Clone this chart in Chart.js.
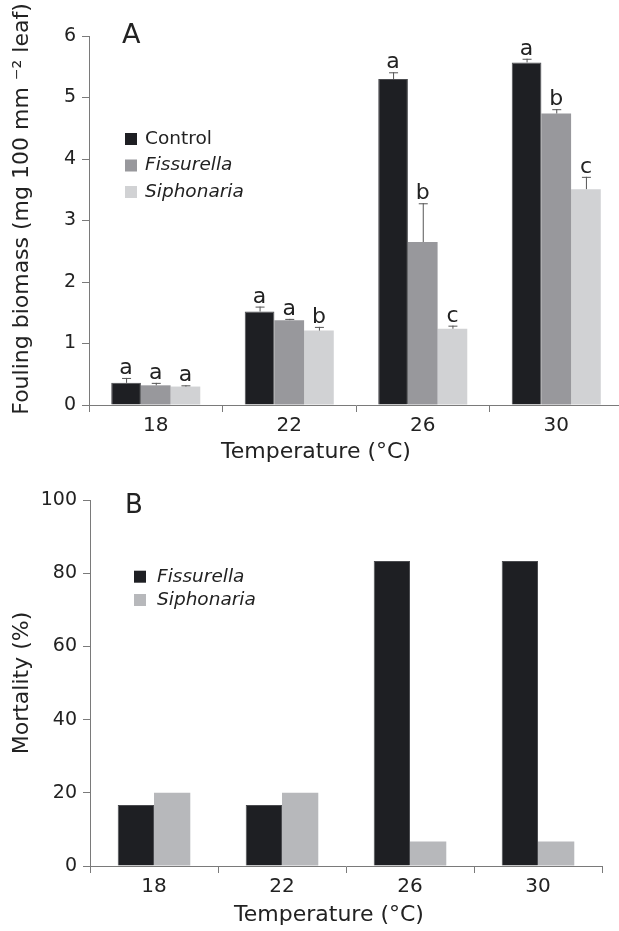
<!DOCTYPE html>
<html lang="en">
<head>
  <meta charset="UTF-8" />
  <title>Fouling biomass and grazer mortality</title>
  <script src="https://cdn.jsdelivr.net/npm/chart.js"></script>
  <style>
    * { box-sizing: border-box; margin: 0; padding: 0; }
    body { width: 619px; height: 931px; overflow: hidden; background: #fff; }
    .panel { width: 619px; overflow: hidden; }
    canvas { display: block; }
  </style>
</head>
<body>

<div class="panel" style="height:465px"><canvas id="chartA" width="623" height="465"></canvas></div>
<div class="panel" style="height:466px"><canvas id="chartB" width="619" height="466"></canvas></div>

<script>
  // temperatures (°C)
  const temperatures = ['18', '22', '26', '30'];

  // panel A: fouling biomass, mean and upper error
  const controlBiomass = [0.36, 1.52, 5.30, 5.57];
  const controlErr = [0.08, 0.08, 0.11, 0.06];
  const fissurellaBiomass = [0.32, 1.38, 2.65, 4.74];
  const fissurellaErr = [0.04, 0.02, 0.63, 0.07];
  const siphonariaBiomass = [0.30, 1.21, 1.24, 3.51];
  const siphonariaErr = [0.02, 0.06, 0.05, 0.20];

  // significance letters
  const controlLetters = ['a', 'a', 'a', 'a'];
  const fissurellaLetters = ['a', 'a', 'b', 'b'];
  const siphonariaLetters = ['a', 'b', 'c', 'c'];

  // panel B: mortality (%)
  const fissurellaMortality = [16.7, 16.7, 83.3, 83.3];
  const siphonariaMortality = [20, 20, 6.7, 6.7];

  const biomassTicks = [0, 1, 2, 3, 4, 5, 6];
  const mortalityTicks = [0, 20, 40, 60, 80, 100];

  const FONT = "'DejaVu Sans', 'Liberation Sans', Arial, sans-serif";
  const AXIS = '#7a7a7a';
  const TEXT = '#222';
  Chart.defaults.font.family = FONT;
  Chart.defaults.color = TEXT;

  // error bars (upper whisker only) + letters
  const errorBars = {
    id: 'errorBars',
    afterDatasetsDraw(chart) {
      const ctx = chart.ctx;
      const y = chart.scales.y;
      ctx.save();
      chart.data.datasets.forEach((ds, i) => {
        if (!ds.errors) return;
        const meta = chart.getDatasetMeta(i);
        meta.data.forEach((bar, j) => {
          const top = y.getPixelForValue(ds.data[j] + ds.errors[j]);
          const base = y.getPixelForValue(ds.data[j]);
          ctx.strokeStyle = '#555';
          ctx.lineWidth = 1;
          ctx.beginPath();
          ctx.moveTo(bar.x + 0.5, base);
          ctx.lineTo(bar.x + 0.5, top);
          ctx.moveTo(bar.x - 4, top + 0.5);
          ctx.lineTo(bar.x + 5, top + 0.5);
          ctx.stroke();
          if (ds.letters) {
            ctx.fillStyle = TEXT;
            ctx.font = '22px ' + FONT;
            ctx.textAlign = 'center';
            ctx.textBaseline = 'alphabetic';
            ctx.fillText(ds.letters[j], bar.x, top - 4);
          }
        });
      });
      ctx.restore();
    }
  };

  // legend, panel letter and axis titles drawn by hand
  const insideLegend = {
    id: 'insideLegend',
    afterDraw(chart, args, opts) {
      const ctx = chart.ctx;
      ctx.save();
      ctx.fillStyle = TEXT;
      ctx.font = opts.panelSize + 'px ' + FONT;
      ctx.textAlign = 'left';
      ctx.textBaseline = 'alphabetic';
      ctx.fillText(opts.panel, opts.panelX, opts.panelY);

      chart.data.datasets.forEach((ds, i) => {
        const cy = opts.y + i * opts.gap;
        ctx.fillStyle = ds.backgroundColor;
        ctx.fillRect(opts.x, cy - 6, 12, 12);
        ctx.fillStyle = TEXT;
        ctx.font = (ds.italic ? 'italic ' : '') + '18.5px ' + FONT;
        ctx.textBaseline = 'middle';
        ctx.fillText(ds.label, opts.x + opts.textOffset, cy);
      });

      // axis titles
      ctx.fillStyle = TEXT;
      ctx.font = '22px ' + FONT;
      ctx.textAlign = 'center';
      ctx.textBaseline = 'middle';
      ctx.fillText(opts.xTitle, opts.xTitleX, opts.xTitleY);
      ctx.translate(opts.yTitleX, opts.yTitleY);
      ctx.rotate(-Math.PI / 2);
      ctx.fillText(opts.yTitle, 0, 0);
      ctx.restore();
    }
  };

  function axisOptions(ticks, width, height) {
    const grid = { display: true, drawOnChartArea: false, drawTicks: true, tickLength: 7, color: AXIS, offset: true };
    return {
      x: {
        grid: grid,
        border: { color: AXIS, width: 1 },
        ticks: { font: { size: 20 }, color: TEXT, padding: 2 },
        afterFit: s => { s.height = height; }
      },
      y: {
        min: ticks[0],
        max: ticks[ticks.length - 1],
        grid: Object.assign({}, grid, { offset: false }),
        border: { color: AXIS, width: 1 },
        afterBuildTicks: s => { s.ticks = ticks.map(v => ({ value: v })); },
        ticks: { font: { size: 19 }, color: TEXT, padding: 6 },
        afterFit: s => { s.width = width; }
      }
    };
  }

  new Chart(document.getElementById('chartA'), {
    type: 'bar',
    data: {
      labels: temperatures,
      datasets: [
        { label: 'Control', data: controlBiomass, errors: controlErr, letters: controlLetters,
          backgroundColor: '#1e1f23', borderColor: '#4a4b4f', borderWidth: 1 },
        { label: 'Fissurella', italic: true, data: fissurellaBiomass, errors: fissurellaErr, letters: fissurellaLetters,
          backgroundColor: '#98989c' },
        { label: 'Siphonaria', italic: true, data: siphonariaBiomass, errors: siphonariaErr, letters: siphonariaLetters,
          backgroundColor: '#d1d2d4' }
      ]
    },
    options: {
      responsive: false,
      animation: false,
      layout: { padding: { top: 36, right: 0, left: 0, bottom: 0 } },
      datasets: { bar: { barPercentage: 1, categoryPercentage: 0.667 } },
      plugins: {
        legend: { display: false },
        tooltip: { enabled: false },
        insideLegend: {
          panel: 'A', panelSize: 27, panelX: 122, panelY: 43,
          x: 125, y: 139, gap: 26.5, textOffset: 20,
          xTitle: 'Temperature (°C)', xTitleX: 316, xTitleY: 452,
          yTitle: 'Fouling biomass (mg 100 mm ⁻² leaf)', yTitleX: 22, yTitleY: 209
        }
      },
      scales: axisOptions(biomassTicks, 89, 60)
    },
    plugins: [errorBars, insideLegend]
  });

  new Chart(document.getElementById('chartB'), {
    type: 'bar',
    data: {
      labels: temperatures,
      datasets: [
        { label: 'Fissurella', italic: true, data: fissurellaMortality,
          backgroundColor: '#1e1f23', borderColor: '#4a4b4f', borderWidth: 1 },
        { label: 'Siphonaria', italic: true, data: siphonariaMortality,
          backgroundColor: '#b7b8bb' }
      ]
    },
    options: {
      responsive: false,
      animation: false,
      layout: { padding: { top: 35, right: 17, left: 0, bottom: 0 } },
      datasets: { bar: { barPercentage: 1, categoryPercentage: 0.567 } },
      plugins: {
        legend: { display: false },
        tooltip: { enabled: false },
        insideLegend: {
          panel: 'B', panelSize: 26, panelX: 125, panelY: 48,
          x: 134, y: 111.7, gap: 23.3, textOffset: 23,
          xTitle: 'Temperature (°C)', xTitleX: 329, xTitleY: 450,
          yTitle: 'Mortality (%)', yTitleX: 22, yTitleY: 218
        }
      },
      scales: axisOptions(mortalityTicks, 90, 65)
    },
    plugins: [insideLegend]
  });
</script>

</body>
</html>
